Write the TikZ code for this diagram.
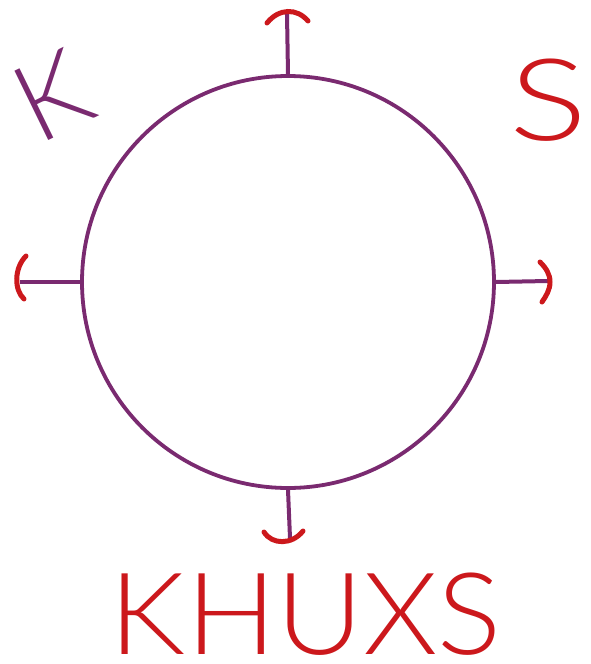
\documentclass[tikz,border=0pt]{standalone}
\usepackage{fontspec}
\newfontfamily\hand{Lato Light}
\definecolor{plum}{RGB}{122,42,112}
\definecolor{ink}{RGB}{204,24,28}
\begin{document}
\begin{tikzpicture}[x=1pt,y=-1pt,
  ring/.style={draw=plum,line width=3.8pt,circle,minimum size=412pt,inner sep=0pt},
  stem/.style={draw=plum,line width=4pt},
  capmark/.style={draw=ink,line width=5pt,line cap=round},
  purpletext/.style={text=plum,inner sep=0pt,font=\hand\fontsize{109}{109}\selectfont},
  redtext/.style={text=ink,inner sep=0pt,font=\hand\fontsize{114}{114}\selectfont}]
\useasboundingbox (0,0) rectangle (591,664);
\fill[white] (0,0) rectangle (591,664);
\node[ring] (c) at (288,282) {};
% tick ends
\coordinate (tn) at (287,14);
\coordinate (tw) at (20,282);
\coordinate (te) at (548,281);
\coordinate (ts) at (290,538);
\draw[stem] (c.north) -- (tn);
\draw[stem] (c.west) -- (tw);
\draw[stem] (c.east) -- (te);
\draw[stem] (c.south) -- (ts);
% red caps
\draw[capmark] (267,23) .. controls (279,8) and (297,8) .. (308,21);
\draw[capmark] (26,256) .. controls (14,268) and (14,290) .. (24,299);
\draw[capmark] (540,262) .. controls (546,268) and (550,274) .. (550,282) .. controls (550,290) and (546,296) .. (542,302);
\draw[capmark] (264,532) .. controls (272,545) and (292,545) .. (303,531);
% labels
\node[purpletext,rotate=26] (k) at (53,96) {K};
\node[redtext,anchor=base,xscale=1.28] (s) at (549,140) {S};
\node[redtext,anchor=base,xscale=1.05] (name) at (306,654) {KHUXS};
\end{tikzpicture}
\end{document}
